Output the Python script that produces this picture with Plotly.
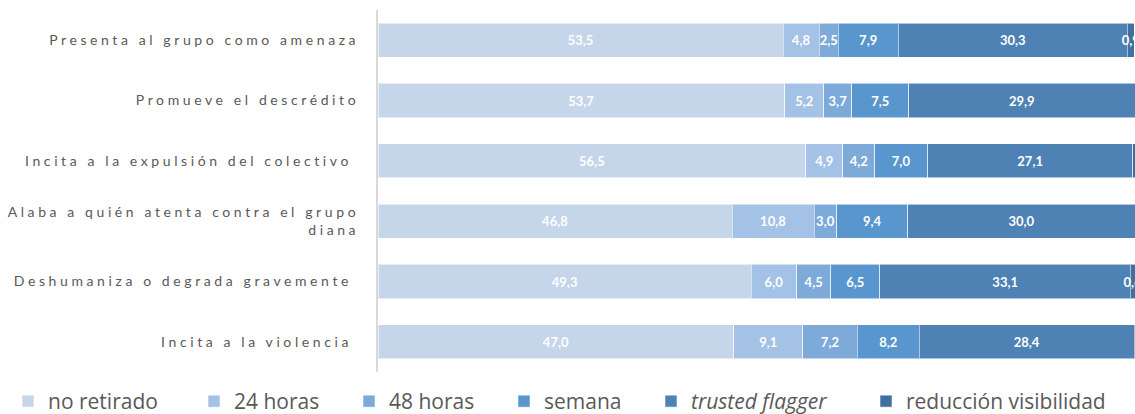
import plotly.graph_objects as go

categories = [
    "Presenta al grupo como amenaza",
    "Promueve el descrédito",
    "Incita a la expulsión del colectivo\u00a0",
    "Alaba a quién atenta contra el grupo<br>diana",
    "Deshumaniza o degrada gravemente\u00a0",
    "Incita a la violencia\u00a0",
]

series_names = ["no retirado", "24 horas", "48 horas", "semana",
                "trusted flagger", "reducción visibilidad"]

no_retirado = [53.5, 53.7, 56.5, 46.8, 49.3, 47.0]
h24 = [4.8, 5.2, 4.9, 10.8, 6.0, 9.1]
h48 = [2.5, 3.7, 4.2, 3.0, 4.5, 7.2]
semana = [7.9, 7.5, 7.0, 9.4, 6.5, 8.2]
trusted = [30.3, 29.9, 27.1, 30.0, 33.1, 28.4]
reduccion = [0.9, 0.0, 0.3, 0.0, 0.6, 0.1]

series_values = [no_retirado, h24, h48, semana, trusted, reduccion]
colors = ["#C5D5EA", "#A4C2E5", "#7DAAD9", "#5896CD", "#4E82B5", "#41709E"]
legend_left_px = [8, 194, 349, 504, 651, 866]

L, R, T, B = 378, 0, 10, 42
W, H = 1135, 414
PW = W - L - R
PH = H - T - B


def fmt(v, min_show):
    return ("%.1f" % v).replace(".", ",") if v >= min_show else ""


fig = go.Figure()
for i, (name, vals, col) in enumerate(zip(series_names, series_values, colors)):
    min_show = 0.5 if i == 5 else 0.05
    lg = "legend" if i == 0 else "legend%d" % (i + 1)
    fig.add_trace(go.Bar(
        y=categories, x=vals, name=name, orientation="h",
        marker=dict(color=col, line=dict(color="rgba(255,255,255,0.55)", width=1)),
        text=[fmt(v, min_show) for v in vals],
        textposition="inside", insidetextanchor="middle", textangle=0,
        textfont=dict(family="Lato", size=13, color="white", weight="bold"),
        cliponaxis=False,
        legend=lg,
    ))

layout_legends = {}
for i, px in enumerate(legend_left_px):
    key = "legend" if i == 0 else "legend%d" % (i + 1)
    layout_legends[key] = dict(
        x=(px - L) / PW, xanchor="left",
        y=(T + PH - 401.5) / PH, yanchor="middle",
        orientation="h", bgcolor="rgba(0,0,0,0)",
        font=dict(family="Open Sans", size=21, color="#595959",
                  style="italic" if i == 4 else "normal"),
        tracegroupgap=0, itemclick=False,
    )

fig.update_layout(
    width=W, height=H,
    margin=dict(l=L, r=R, t=T, b=B, pad=0, autoexpand=False),
    barmode="stack", bargap=0.435,
    plot_bgcolor="white", paper_bgcolor="white",
    font=dict(family="Lato", color="#595959"),
    uniformtext=dict(minsize=13, mode="show"),
    showlegend=True,
    xaxis=dict(range=[0, 100], showgrid=False, zeroline=False,
               showticklabels=False, showline=False, fixedrange=True,
               automargin=False),
    yaxis=dict(autorange="reversed", showgrid=False, zeroline=False,
               showline=True, linecolor="#D9D9D9", linewidth=2,
               ticks="", ticklabelstandoff=14, automargin=False,
               tickfont=dict(family="Lato", size=14, color="#595959")),
    **layout_legends,
)

post = ("document.body.style.margin='0';"
        "document.body.style.overflow='hidden';"
        "var s=document.createElement('style');"
        "s.textContent='.ytick text, .ytick text tspan{letter-spacing:3.6px;}';"
        "document.head.appendChild(s);")

fig.write_html("out.html", post_script=post, config={"displayModeBar": False})
